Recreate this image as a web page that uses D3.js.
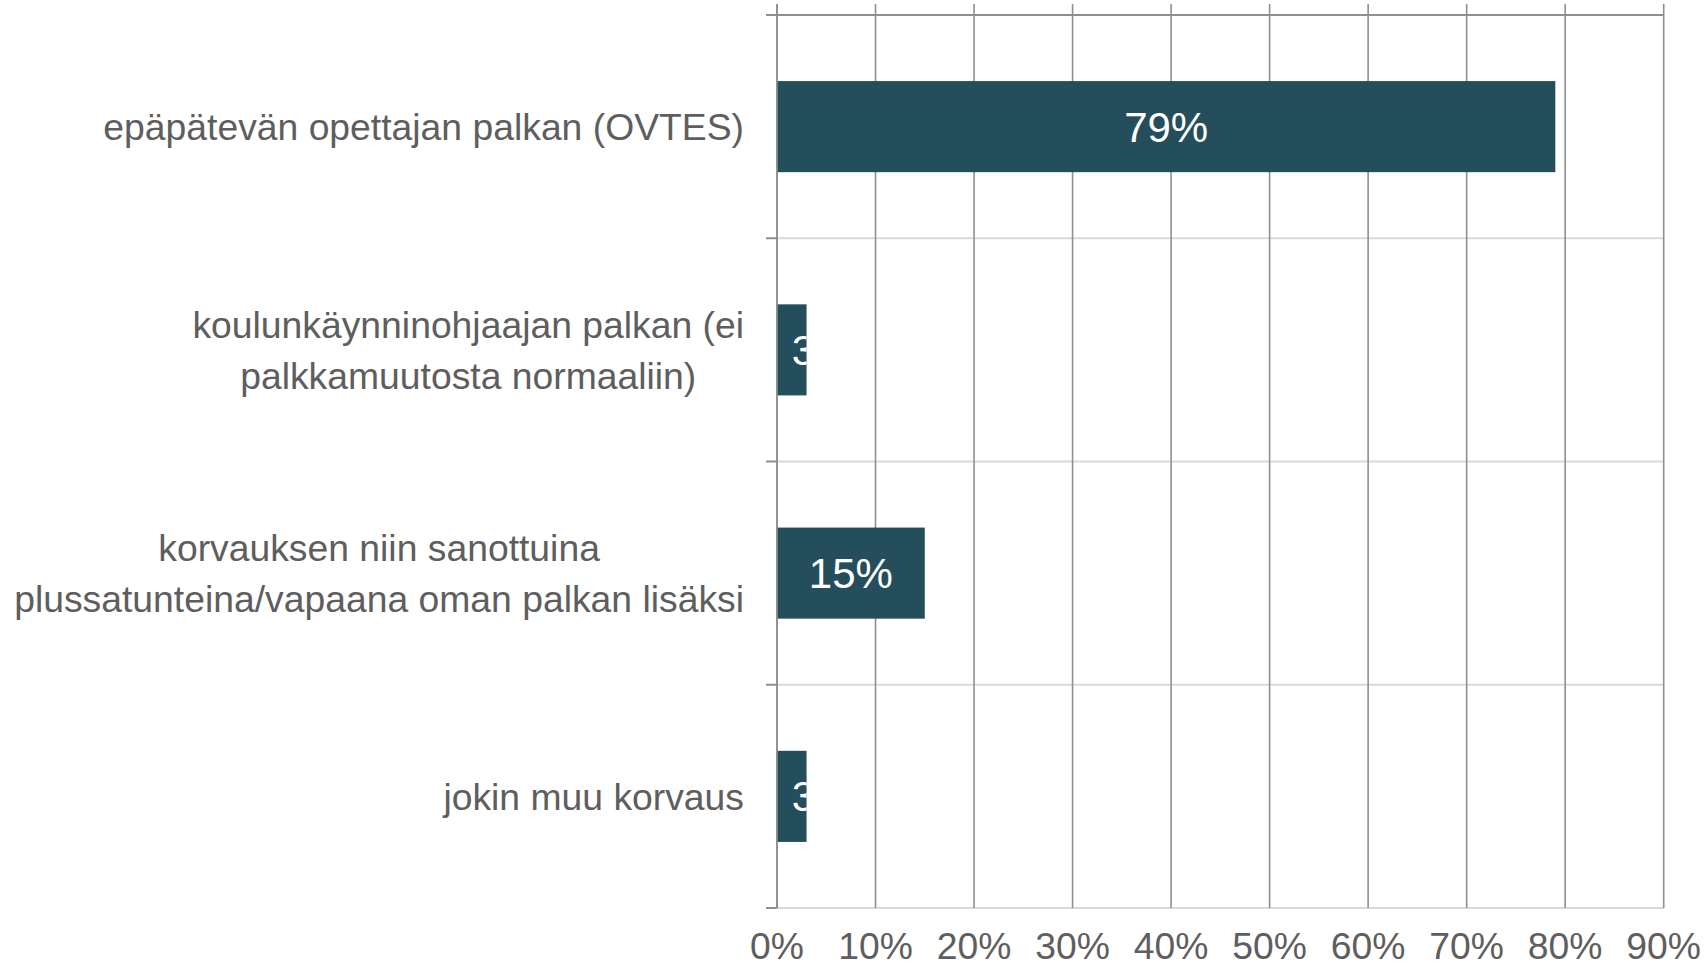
<!DOCTYPE html>
<html>
<head>
<meta charset="utf-8">
<script src="https://cdn.jsdelivr.net/npm/d3@7"></script>
<style>
  html, body { margin: 0; padding: 0; background: #ffffff; }
  svg { display: block; }
  text { font-family: "Liberation Sans", Arial, sans-serif; }
</style>
</head>
<body>
<svg id="chart" width="1706" height="968"></svg>
<script>
const categories = [
  "epäpätevän opettajan palkan (OVTES)",
  "koulunkäynninohjaajan palkan (ei palkkamuutosta normaaliin)",
  "korvauksen niin sanottuina plussatunteina/vapaana oman palkan lisäksi",
  "jokin muu korvaus"
];
const values = [0.79, 0.03, 0.15, 0.03];
const tickValues = [0, 0.1, 0.2, 0.3, 0.4, 0.5, 0.6, 0.7, 0.8, 0.9];
const tickLabels = ["0%", "10%", "20%", "30%", "40%", "50%", "60%", "70%", "80%", "90%"];
const valueLabels = ["79%", "3%", "15%", "3%"];

const svg = d3.select("#chart");
const plot = { left: 777, right: 1663.7, top: 15, bottom: 908, gridTop: 4 };

const x = d3.scaleLinear().domain([0, 0.9]).range([plot.left, plot.right]);
const y = d3.scaleBand().domain(categories).range([plot.top, plot.bottom]).padding(0);
const step = y.step();
const barH = step * 0.408;

const gridDark = "#8f8f8f";
const gridLight = "#d9d9d9";
const textColor = "#5e5e5e";
const barColor = "#244e5b";

// light horizontal separators (band boundaries)
const bounds = categories.map(c => y(c)).concat([plot.bottom]);
svg.append("g").selectAll("line").data(bounds.slice(1)).join("line")
  .attr("x1", plot.left).attr("x2", plot.right)
  .attr("y1", d => d).attr("y2", d => d)
  .attr("stroke", gridLight).attr("stroke-width", 2);

// top horizontal line (darker)
svg.append("line")
  .attr("x1", plot.left).attr("x2", plot.right)
  .attr("y1", plot.top).attr("y2", plot.top)
  .attr("stroke", gridDark).attr("stroke-width", 2);

// vertical gridlines
svg.append("g").selectAll("line").data(tickValues).join("line")
  .attr("x1", d => x(d)).attr("x2", d => x(d))
  .attr("y1", plot.gridTop).attr("y2", plot.bottom)
  .attr("stroke", gridDark).attr("stroke-width", 1.6);

// bars
const defs = svg.append("defs");
const bars = svg.append("g");
categories.forEach((c, i) => {
  const by = y(c) + (step - barH) / 2;
  defs.append("clipPath").attr("id", "clip" + i)
    .append("rect")
    .attr("x", x(0)).attr("y", by)
    .attr("width", x(values[i]) - x(0)).attr("height", barH);
  bars.append("rect")
    .attr("x", x(0)).attr("y", by)
    .attr("width", x(values[i]) - x(0)).attr("height", barH)
    .attr("fill", barColor);
});

// y-axis line and left tick stubs
svg.append("line")
  .attr("x1", plot.left).attr("x2", plot.left)
  .attr("y1", plot.gridTop).attr("y2", plot.bottom)
  .attr("stroke", gridDark).attr("stroke-width", 1.6);
svg.append("g").selectAll("line").data(bounds).join("line")
  .attr("x1", plot.left - 11).attr("x2", plot.left)
  .attr("y1", d => d).attr("y2", d => d)
  .attr("stroke", gridDark).attr("stroke-width", 2);

// value labels
const lbl = svg.append("g");
categories.forEach((c, i) => {
  const cy = y(c) + step / 2;
  const x0 = x(0), x1 = x(values[i]);
  const cx = (x0 + x1) / 2;
  const t = lbl.append("text")
    .attr("x", cx).attr("y", cy + 15)
    .attr("fill", "#ffffff")
    .attr("font-size", 42)
    .attr("text-anchor", "middle")
    .attr("clip-path", "url(#clip" + i + ")")
    .text(valueLabels[i]);
  const tw = t.node().getComputedTextLength();
  if (tw > (x1 - x0)) {
    t.attr("text-anchor", "start").attr("x", cx);
  }
});

// x tick labels
svg.append("g").selectAll("text").data(tickValues).join("text")
  .attr("x", d => x(d)).attr("y", 959)
  .attr("text-anchor", "middle")
  .attr("fill", textColor)
  .attr("font-size", 37.3)
  .text((d, i) => tickLabels[i]);

// category labels: wrapped, centered lines, block right-aligned at 744
const labelRight = 744;
const fs = 37.3, lineH = 50.5, maxW = 760;
const measure = svg.append("text").attr("font-size", fs).attr("visibility", "hidden");
function width(s) { measure.text(s); return measure.node().getComputedTextLength(); }
const catG = svg.append("g");
categories.forEach(c => {
  const words = c.split(" ");
  const lines = [];
  let cur = "";
  words.forEach(w => {
    const test = cur ? cur + " " + w : w;
    if (cur && width(test) > maxW) { lines.push(cur); cur = w; }
    else cur = test;
  });
  if (cur) lines.push(cur);
  const blockW = d3.max(lines, l => width(l));
  const cx = labelRight - blockW / 2;
  const cy = y(c) + step / 2;
  const n = lines.length;
  lines.forEach((l, k) => {
    const ly = cy + (k - (n - 1) / 2) * lineH + 13.5;
    catG.append("text")
      .attr("x", cx).attr("y", ly)
      .attr("text-anchor", "middle")
      .attr("fill", textColor)
      .attr("font-size", fs)
      .text(l);
  });
});
measure.remove();
</script>
</body>
</html>
